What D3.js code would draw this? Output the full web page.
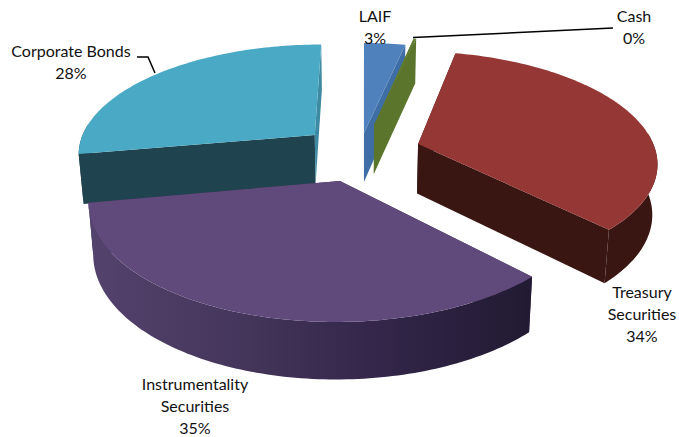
<!DOCTYPE html>
<html>
<head>
<meta charset="utf-8">
<script src="https://cdn.jsdelivr.net/npm/d3@7/dist/d3.min.js"></script>
<style>
  html, body { margin: 0; padding: 0; background: #fff; }
  svg { display: block; }
  text { font-family: Lato, "Open Sans", sans-serif; font-size: 16px; fill: #111; text-anchor: middle; }
</style>
</head>
<body>
<svg id="chart" width="679" height="437"></svg>
<script>
// Portfolio shares, in pie order (clockwise from twelve o'clock)
const categories = ["LAIF", "Cash", "Treasury Securities", "Instrumentality Securities", "Corporate Bonds"];
const shares = [3.3, 0.2, 34.4, 34.6, 28];

const topColors = ["#4f81bd", "#617d31", "#953735", "#604a7b", "#4aa9c4"];
const startWallColors = ["#3f6ea6", "#5b752d", "#3a1613", "#3a2c4e", "#1f4450"];
const endWallColors = ["#3f6ea6", "#5b752d", "#3a1613", "#3a2c4e", "#3e8aa3"];
const rimColors = ["#3f6ea6", "#5b752d", "#3a1613", "url(#rimShade)", "#1f4450"];

// Slice displacement on the table plane: sideways, and away from the viewer
const explodeX = [0, 0.044, 0.23, -0.097, -0.212];
const explodeZ = [0.114, 0.192, 0.01, -0.319, 0.095];

// Back-to-front paint order, so nearer slices cover farther ones
const paintOrder = [0, 1, 4, 2, 3];

const labelLines = [["LAIF"], ["Cash"], ["Treasury", "Securities"], ["Instrumentality", "Securities"], ["Corporate Bonds"]];
const labelX = [375, 634, 642, 195, 71];
const labelTop = [22, 22, 298, 390, 57];
const labelLeading = 22;

// Camera: points recede toward a vanishing point above the chart
const vanishX = 364, vanishY = -556;
const widthPerUnit = 0.336;
const inverseDepth = d3.scaleLinear().domain([0, 1]).range([1 / 701, 1 / 701 + 0.000218]);
const nadirX = 360;

function project(x, z) {
  const span = 1 / inverseDepth(z);
  return [vanishX + widthPerUnit * x * span, vanishY + span];
}
// Drop a point on the top face to the base of the disc
function lower(p) {
  const span = p[1] - vanishY;
  return [nadirX + (p[0] - nadirX) * 0.9825, p[1] + 18 + 0.045 * span];
}

const slices = d3.pie().sort(null).value(d => d)(shares);
const svg = d3.select("#chart");
const line = d3.line();

const grad = svg.append("defs").append("linearGradient")
  .attr("id", "rimShade").attr("gradientUnits", "userSpaceOnUse")
  .attr("x1", 90).attr("x2", 533).attr("y1", 0).attr("y2", 0);
[[0, "#53436d"], [0.35, "#44355b"], [0.65, "#33264a"], [1, "#221a32"]].forEach(([o, c]) =>
  grad.append("stop").attr("offset", o).attr("stop-color", c));

function drawSlice(i) {
  const s = slices[i], ox = explodeX[i], oz = explodeZ[i];
  const steps = Math.max(2, Math.ceil((s.endAngle - s.startAngle) / 0.02));
  const angles = d3.range(steps + 1).map(k => s.startAngle + (s.endAngle - s.startAngle) * k / steps);
  const toRim = a => project(ox + Math.sin(a), oz + Math.cos(a));
  const rim = angles.map(toRim);
  const apex = project(ox, oz);
  const g = svg.append("g").attr("class", "slice");
  const face = (pts, fill) => g.append("path").attr("d", line(pts) + "Z").attr("fill", fill);

  // Walls first: the curved side and the top hide whichever wall faces away
  const wall = (p, fill) => face([apex, p, lower(p), lower(apex)], fill);
  wall(rim[0], startWallColors[i]);
  wall(rim[rim.length - 1], endWallColors[i]);

  // Only the part of the curved side turned toward the viewer is painted
  const frontRim = angles.filter(a => Math.cos(a) < 0.1).map(toRim);
  if (frontRim.length > 1) face(frontRim.concat(frontRim.map(lower).reverse()), rimColors[i]);

  face([apex].concat(rim), topColors[i]);
}
paintOrder.forEach(drawSlice);

// Leader lines for the two labels set away from their slices
const leaders = [
  [[413, 37.5], [613, 28]],
  [[137, 57], [148, 57], [155, 73]]
];
svg.selectAll("path.leader").data(leaders).join("path")
  .attr("class", "leader").attr("d", d => line(d))
  .attr("fill", "none").attr("stroke", "#000").attr("stroke-width", 1.5);

// Name lines followed by the rounded percentage
categories.forEach((name, i) => {
  const t = svg.append("text").attr("x", labelX[i]).attr("y", labelTop[i]);
  labelLines[i].concat([d3.format(".0f")(shares[i]) + "%"]).forEach((str, k) =>
    t.append("tspan").attr("x", labelX[i]).attr("y", labelTop[i] + k * labelLeading).text(str));
});
</script>
</body>
</html>
